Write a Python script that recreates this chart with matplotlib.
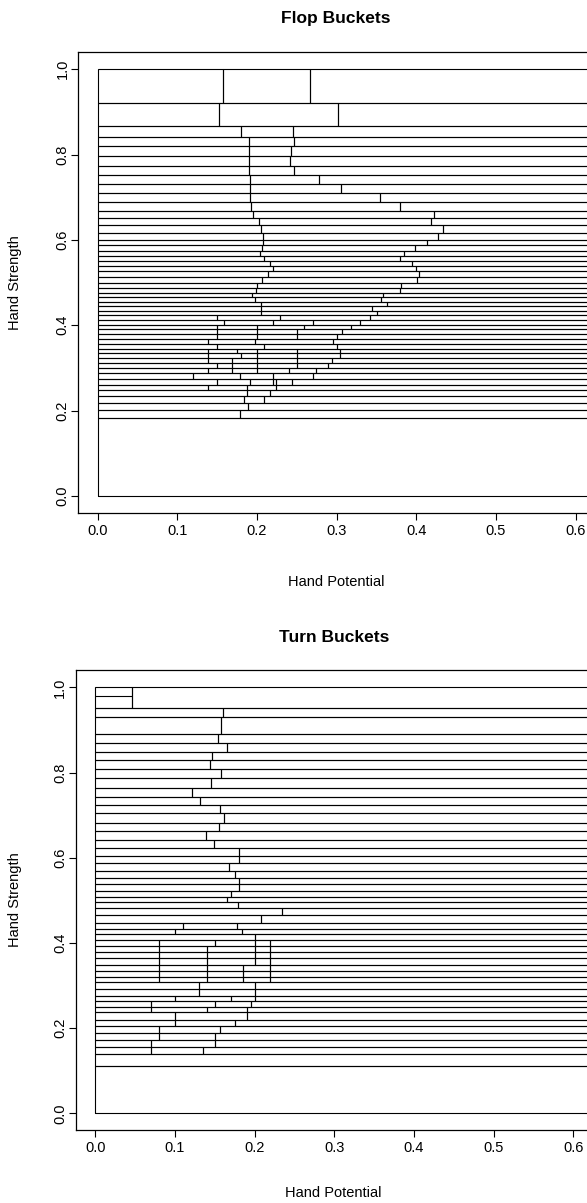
import matplotlib
matplotlib.use("Agg")
import matplotlib.pyplot as plt
from matplotlib.patches import Rectangle

plt.rcParams['font.family'] = ['Liberation Sans', 'DejaVu Sans']

# ---- Flop buckets: hand strength band edges (top -> bottom) and potential cuts per band
flop_edges = [1.000, 0.920, 0.868, 0.841, 0.819, 0.797, 0.774, 0.752, 0.731, 0.709,
              0.688, 0.668, 0.651, 0.634, 0.617, 0.600, 0.588, 0.575, 0.562, 0.551,
              0.539, 0.528, 0.514, 0.500, 0.488, 0.476, 0.467, 0.455, 0.445, 0.434,
              0.424, 0.412, 0.400, 0.390, 0.379, 0.367, 0.356, 0.344, 0.334, 0.322,
              0.311, 0.299, 0.287, 0.273, 0.261, 0.248, 0.234, 0.218, 0.201, 0.182,
              0.000]
flop_cuts = [
    [0.158, 0.267], [0.152, 0.302], [0.180, 0.245], [0.190, 0.246], [0.190, 0.243],
    [0.190, 0.242], [0.190, 0.247], [0.191, 0.278], [0.191, 0.305], [0.191, 0.355],
    [0.193, 0.380], [0.195, 0.422], [0.202, 0.419], [0.205, 0.434], [0.208, 0.427],
    [0.207, 0.413], [0.206, 0.398], [0.204, 0.385], [0.209, 0.380], [0.217, 0.394],
    [0.220, 0.399], [0.214, 0.403], [0.206, 0.401], [0.200, 0.381], [0.199, 0.379],
    [0.194, 0.358], [0.197, 0.356], [0.205, 0.363], [0.205, 0.345], [0.205, 0.351],
    [0.150, 0.229, 0.342], [0.159, 0.220, 0.270, 0.329], [0.150, 0.200, 0.259, 0.318],
    [0.150, 0.200, 0.250, 0.307], [0.150, 0.200, 0.250, 0.301], [0.139, 0.197, 0.296],
    [0.150, 0.209, 0.301], [0.139, 0.175, 0.200, 0.250, 0.304],
    [0.139, 0.180, 0.200, 0.250, 0.304], [0.139, 0.169, 0.200, 0.250, 0.294],
    [0.150, 0.169, 0.200, 0.250, 0.289], [0.139, 0.169, 0.200, 0.240, 0.274],
    [0.120, 0.179, 0.220, 0.270], [0.150, 0.191, 0.220, 0.224, 0.244],
    [0.139, 0.188, 0.224], [0.188, 0.216], [0.184, 0.209], [0.189], [0.179], [],
]
flop_splits = []  # (x_from, x_to, y) extra horizontal splits inside a bucket

# ---- Turn buckets
turn_edges = [1.000, 0.951, 0.931, 0.890, 0.869, 0.848, 0.829, 0.808, 0.786, 0.764,
              0.743, 0.724, 0.704, 0.682, 0.663, 0.642, 0.622, 0.604, 0.587, 0.569,
              0.552, 0.538, 0.522, 0.507, 0.495, 0.482, 0.465, 0.447, 0.432, 0.420,
              0.407, 0.393, 0.379, 0.364, 0.348, 0.334, 0.321, 0.308, 0.292, 0.276,
              0.264, 0.250, 0.237, 0.220, 0.204, 0.188, 0.173, 0.156, 0.139, 0.111,
              0.000]
turn_cuts = [
    [0.046], [0.161], [0.158], [0.154], [0.165], [0.147], [0.144], [0.158], [0.145],
    [0.122], [0.132], [0.157], [0.162], [0.156], [0.139], [0.149], [0.180], [0.180],
    [0.168], [0.175], [0.180], [0.180], [0.170], [0.166], [0.179], [0.235], [0.208],
    [0.110, 0.178], [0.100, 0.184], [0.201],
    [0.080, 0.150, 0.200, 0.220], [0.080, 0.140, 0.200, 0.220],
    [0.080, 0.140, 0.200, 0.220], [0.080, 0.140, 0.200, 0.220],
    [0.080, 0.140, 0.185, 0.220], [0.080, 0.140, 0.185, 0.220],
    [0.080, 0.140, 0.185, 0.220],
    [0.130, 0.200], [0.130, 0.200], [0.100, 0.170, 0.200], [0.070, 0.150, 0.195],
    [0.070, 0.140, 0.190], [0.100, 0.190], [0.100, 0.175], [0.080, 0.157],
    [0.080, 0.151], [0.070, 0.151], [0.070, 0.135], [], [],
]
turn_splits = [(0.0, 0.046, 0.980)]

x_ticks = [0.0, 0.1, 0.2, 0.3, 0.4, 0.5, 0.6]
y_ticks = [0.0, 0.2, 0.4, 0.6, 0.8, 1.0]
X_MAX = 1.0  # buckets run on past the visible area

W, H = 587, 1203
fig = plt.figure(figsize=(W / 100, H / 100), dpi=100)
fig.patch.set_facecolor('white')


def make_axes(left_px, top_px, bottom_px, right_px):
    return fig.add_axes([left_px / W, 1 - bottom_px / H,
                         (right_px - left_px) / W, (bottom_px - top_px) / H])


def draw_panel(ax, edges, cuts, splits, title, title_xy, xlab_xy, ylab_xy):
    for i, band in enumerate(cuts):
        hi, lo = edges[i], edges[i + 1]
        xs = [0.0] + sorted(band) + [X_MAX]
        for a, b in zip(xs[:-1], xs[1:]):
            ax.add_patch(Rectangle((a, lo), b - a, hi - lo, fill=False,
                                   edgecolor='black', linewidth=0.8))
    for x0, x1, y in splits:
        ax.hlines(y, x0, x1, color='black', linewidth=0.8)
    ax.set_xlim(-0.0245, 0.625)
    ax.set_ylim(-0.04, 1.04)
    ax.set_xticks(x_ticks)
    ax.set_xticklabels([f"{t:.1f}" for t in x_ticks])
    ax.set_yticks(y_ticks)
    ax.set_yticklabels([f"{t:.1f}" for t in y_ticks], rotation=90, va='center')
    ax.tick_params(direction='out', length=5, width=0.8, labelsize=10.5,
                   color='black')
    ax.tick_params(axis='x', pad=3)
    ax.tick_params(axis='y', pad=1)
    for s in ax.spines.values():
        s.set_linewidth(0.9)
    ax.spines['right'].set_visible(False)
    fig.text(title_xy[0] / W, 1 - title_xy[1] / H, title, ha='center', va='center',
             fontsize=12.5, fontweight='bold')
    fig.text(xlab_xy[0] / W, 1 - xlab_xy[1] / H, "Hand Potential", ha='center',
             va='center', fontsize=10.5)
    fig.text(ylab_xy[0] / W, 1 - ylab_xy[1] / H, "Hand Strength", ha='center',
             va='center', rotation=90, fontsize=10.5)


ax1 = make_axes(78, 52.2, 512.9, 78 + 0.6495 * 797)
draw_panel(ax1, flop_edges, flop_cuts, flop_splits, "Flop Buckets",
           (336, 18), (336, 582), (15, 283))

ax2 = make_axes(75.6, 670.3, 1130.3, 75.6 + 0.6495 * 797)
draw_panel(ax2, turn_edges, turn_cuts, turn_splits, "Turn Buckets",
           (334, 638), (333, 1193), (15, 900))

fig.savefig("out.png", dpi=100)
